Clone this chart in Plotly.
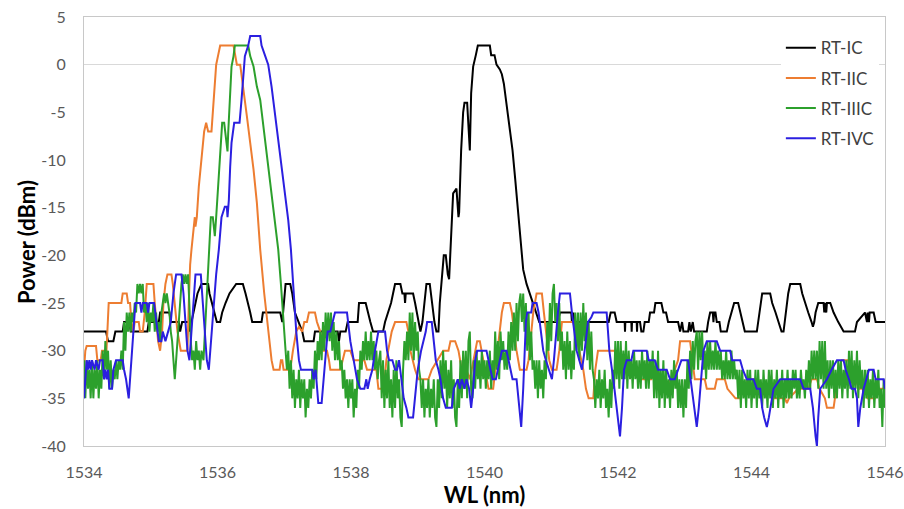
import plotly.graph_objects as go

# ---- data: (wavelength nm, power dBm) vertices ----
rt_ic = [
    [1534.00,-28],[1534.33,-28],[1534.36,-29],[1534.44,-29],[1534.47,-28],[1534.58,-28],[1534.60,-27],[1534.68,-27],
    [1534.70,-28],[1534.95,-28],[1534.97,-27],[1535.12,-27],[1535.14,-26],[1535.28,-26],[1535.30,-27],[1535.42,-27],
    [1535.44,-28],[1535.47,-27],[1535.57,-27],[1535.59,-28],[1535.61,-27],[1535.64,-26],[1535.67,-25],[1535.70,-24],
    [1535.76,-23],[1535.86,-23],[1535.88,-24],[1535.92,-25],[1535.96,-26],[1535.99,-27],[1536.04,-27],[1536.07,-26],
    [1536.12,-25],[1536.18,-24],[1536.28,-23],[1536.38,-23],[1536.42,-24],[1536.46,-25],[1536.49,-26],[1536.52,-27],
    [1536.66,-27],[1536.68,-26],[1536.94,-26],[1536.97,-27],[1537.00,-25],[1537.02,-23],[1537.09,-23],[1537.12,-24],
    [1537.16,-26],[1537.22,-27],[1537.27,-28],[1537.30,-29],[1537.44,-29],[1537.46,-28],[1537.80,-28],[1537.82,-29],
    [1537.84,-28],[1537.92,-28],[1537.95,-27],[1538.10,-27],[1538.12,-25],[1538.22,-25],[1538.25,-26],[1538.29,-27],
    [1538.33,-28],[1538.48,-28],[1538.51,-27],[1538.56,-26],[1538.60,-25],[1538.63,-24],[1538.66,-23],[1538.74,-23],
    [1538.77,-24],[1538.80,-24],[1538.81,-25],[1538.82,-24],[1538.93,-24],[1538.96,-25],[1538.99,-26],[1539.02,-27],
    [1539.04,-28],[1539.07,-27],[1539.10,-25],[1539.13,-23],[1539.18,-23],[1539.21,-25],[1539.25,-27],[1539.28,-28],
    [1539.31,-28],[1539.33,-25],[1539.36,-22],[1539.39,-20],[1539.42,-20],[1539.45,-22],[1539.47,-22.5],[1539.49,-19],
    [1539.51,-16],[1539.53,-13.5],[1539.58,-13],[1539.61,-16],[1539.62,-15.5],[1539.65,-9],[1539.68,-5],[1539.70,-4],
    [1539.74,-4],[1539.78,-9],[1539.80,-3],[1539.83,-0.2],[1539.87,1],[1539.90,2],[1540.08,2],[1540.10,1],
    [1540.15,1],[1540.18,0],[1540.23,-0.5],[1540.26,-1],[1540.29,-2],[1540.31,-3],[1540.34,-4.5],[1540.38,-6.5],
    [1540.42,-9],[1540.46,-12],[1540.49,-14.5],[1540.53,-17.5],[1540.56,-19.5],[1540.58,-21.5],[1540.63,-23],[1540.68,-24],
    [1540.73,-25],[1540.77,-26],[1540.82,-27],[1540.96,-27],[1540.97,-28],[1540.99,-27],[1541.10,-27],[1541.13,-26],
    [1541.30,-26],[1541.31,-27],[1541.33,-26],[1541.35,-27],[1541.86,-27],[1541.89,-26],[1541.95,-26],[1541.98,-27],
    [1542.10,-27],[1542.105,-28],[1542.11,-27],[1542.20,-27],[1542.205,-28],[1542.21,-27],[1542.28,-27],[1542.285,-28],
    [1542.29,-27],[1542.33,-27],[1542.35,-28],[1542.38,-28],[1542.40,-27],[1542.46,-27],[1542.48,-26],[1542.54,-26],
    [1542.56,-25],[1542.65,-25],[1542.68,-26],[1542.72,-26],[1542.75,-27],[1542.90,-27],[1542.93,-28],[1542.96,-27],
    [1542.98,-28],[1543.05,-28],[1543.07,-27],[1543.09,-28],[1543.12,-27],[1543.14,-28],[1543.33,-28],[1543.35,-27],
    [1543.38,-26],[1543.42,-26],[1543.43,-27],[1543.44,-26],[1543.46,-26],[1543.48,-27],[1543.52,-27],[1543.54,-28],
    [1543.63,-28],[1543.66,-27],[1543.70,-26],[1543.74,-25],[1543.80,-25],[1543.83,-26],[1543.86,-27],[1543.90,-28],
    [1544.08,-28],[1544.10,-27],[1544.13,-26],[1544.16,-24],[1544.28,-24],[1544.31,-25],[1544.36,-26],[1544.40,-27],
    [1544.45,-28],[1544.48,-28],[1544.51,-26],[1544.55,-24],[1544.58,-23],[1544.73,-23],[1544.76,-24],[1544.80,-25],
    [1544.85,-26],[1544.90,-27],[1544.92,-27.5],[1544.94,-27],[1544.96,-26],[1545.00,-25],[1545.08,-25],[1545.09,-26],
    [1545.10,-25],[1545.12,-26],[1545.13,-25],[1545.18,-25],[1545.23,-26],[1545.30,-27],[1545.38,-28],[1545.55,-28],
    [1545.58,-27],[1545.70,-26],[1545.73,-27],[1545.74,-26],[1545.76,-27],[1545.77,-26],[1545.83,-26],[1545.86,-27],
    [1546.00,-27],
]

rt_iic = [
    [1534.00,-32],[1534.02,-30],[1534.04,-29.5],[1534.18,-29.5],[1534.20,-31],[1534.25,-31],[1534.27,-30],[1534.31,-30],
    [1534.33,-31],[1534.35,-28],[1534.37,-25],[1534.56,-25],[1534.58,-24],[1534.64,-24],[1534.66,-25],[1534.69,-25],
    [1534.71,-27],[1534.74,-28],[1534.76,-27],[1534.82,-27],[1534.84,-28],[1534.88,-28],[1534.91,-26],[1534.94,-23],
    [1535.04,-23],[1535.06,-25],[1535.08,-27],[1535.11,-29],[1535.14,-30],[1535.17,-28],[1535.19,-25],[1535.22,-23],
    [1535.25,-22],[1535.31,-22],[1535.33,-23],[1535.36,-25],[1535.40,-28],[1535.45,-30],[1535.55,-30],[1535.57,-25],
    [1535.59,-21],[1535.61,-19.4],[1535.64,-17],[1535.66,-16],[1535.67,-17],[1535.69,-16],[1535.72,-12.8],[1535.77,-8.9],
    [1535.80,-7],[1535.83,-6.1],[1535.86,-7],[1535.91,-7],[1535.94,-3.7],[1535.98,0],[1536.01,1],[1536.04,2],
    [1536.24,2],[1536.26,1],[1536.29,0],[1536.34,0],[1536.36,-1],[1536.39,-2.6],[1536.44,-5.4],[1536.49,-8.2],
    [1536.54,-11],[1536.59,-14.5],[1536.64,-19.4],[1536.70,-24],[1536.76,-28],[1536.81,-31],[1536.84,-32],[1536.93,-32],
    [1536.95,-31],[1536.97,-31],[1536.99,-32],[1537.09,-32],[1537.13,-30],[1537.18,-28],[1537.22,-27.5],[1537.27,-28],
    [1537.30,-27],[1537.34,-27],[1537.37,-26],[1537.46,-26],[1537.49,-27],[1537.54,-28],[1537.59,-30],[1537.64,-30],
    [1537.67,-31],[1537.69,-32],[1537.84,-32],[1537.87,-31],[1537.91,-30],[1537.99,-30],[1538.04,-31],[1538.20,-31],
    [1538.24,-32],[1538.38,-32],[1538.41,-34],[1538.49,-34],[1538.53,-31],[1538.61,-28],[1538.66,-27],[1538.83,-27],
    [1538.86,-28],[1538.89,-30],[1538.96,-32],[1539.01,-33],[1539.16,-33],[1539.21,-32],[1539.30,-31],[1539.38,-30],
    [1539.46,-30],[1539.49,-29],[1539.56,-29],[1539.61,-30],[1539.66,-32],[1539.73,-32],[1539.78,-33],[1539.83,-31],
    [1539.86,-30],[1539.89,-29],[1539.93,-29],[1539.98,-31],[1540.03,-33],[1540.06,-34],[1540.13,-34],[1540.16,-32],
    [1540.19,-30],[1540.22,-28],[1540.26,-26],[1540.29,-25],[1540.38,-25],[1540.41,-26],[1540.44,-28],[1540.48,-30],
    [1540.53,-32],[1540.63,-32],[1540.66,-31],[1540.70,-28],[1540.73,-26],[1540.78,-24],[1540.86,-24],[1540.89,-26],
    [1540.92,-28],[1540.97,-31],[1541.01,-32],[1541.08,-32],[1541.12,-30],[1541.16,-27],[1541.33,-27],[1541.36,-28],
    [1541.43,-30],[1541.48,-32],[1541.52,-34],[1541.56,-35],[1541.63,-35],[1541.66,-32],[1541.70,-30],[1541.95,-30],
    [1541.98,-31],[1542.10,-31],[1542.13,-32],[1542.30,-32],[1542.33,-33],[1542.50,-33],[1542.53,-32],[1542.60,-32],
    [1542.63,-33],[1542.70,-34],[1542.74,-34.5],[1542.78,-33],[1542.85,-32],[1542.90,-31],[1542.93,-29],[1543.08,-29],
    [1543.11,-31],[1543.15,-33],[1543.30,-33],[1543.33,-34],[1543.45,-34],[1543.48,-33],[1543.60,-33],[1543.64,-34],
    [1543.76,-35],[1543.83,-35],[1543.87,-34],[1543.95,-33],[1544.10,-33],[1544.14,-34],[1544.30,-34],[1544.34,-35],
    [1544.50,-35],[1544.53,-35.5],[1544.56,-35],[1544.70,-34],[1544.85,-34],[1544.90,-33],[1544.98,-33],[1545.02,-34],
    [1545.10,-35],[1545.13,-36],[1545.23,-36],[1545.27,-34],[1545.31,-32],[1545.35,-31],[1545.45,-31],[1545.48,-32],
    [1545.55,-33],[1545.62,-34],[1545.70,-34],[1545.74,-35],[1545.85,-35],[1545.88,-34],[1546.00,-34],
]

rt_iiic = [
    [1534.00,-31],[1534.02,-35],[1534.04,-31],[1534.06,-34],[1534.08,-32],[1534.10,-35],[1534.12,-31],[1534.14,-35],
    [1534.16,-32],[1534.18,-34],[1534.20,-31],[1534.22,-35],[1534.24,-32],[1534.26,-34],[1534.28,-30],[1534.30,-33],
    [1534.32,-29],[1534.34,-32],[1534.36,-30],[1534.38,-34],[1534.40,-31],[1534.42,-34],[1534.44,-32],[1534.46,-33],
    [1534.48,-31],[1534.50,-33],[1534.52,-31],[1534.54,-32],[1534.56,-30],[1534.58,-32],[1534.60,-27],[1534.62,-30],
    [1534.64,-26],[1534.66,-28],[1534.68,-26],[1534.70,-28],[1534.72,-26],[1534.74,-27],[1534.76,-25],[1534.78,-26],
    [1534.80,-23],[1534.82,-24],[1534.84,-23],[1534.86,-24],[1534.88,-23],[1534.90,-26],[1534.92,-25],[1534.94,-27],
    [1534.96,-25],[1534.98,-28],[1535.00,-26],[1535.02,-27],[1535.04,-25],[1535.06,-28],[1535.08,-26],[1535.10,-28],
    [1535.12,-27],[1535.14,-29],[1535.16,-26],[1535.18,-25],[1535.20,-24],[1535.22,-25],[1535.24,-24],[1535.26,-25],
    [1535.28,-26],[1535.30,-28],[1535.32,-29],[1535.34,-31],[1535.36,-33],[1535.38,-31],[1535.40,-29],[1535.42,-26],
    [1535.44,-24],[1535.46,-23],[1535.48,-22],[1535.50,-23],[1535.52,-22],[1535.54,-23],[1535.56,-22],[1535.58,-26],
    [1535.60,-29],[1535.62,-31],[1535.64,-30],[1535.66,-32],[1535.68,-29],[1535.70,-31],[1535.72,-30],[1535.74,-32],
    [1535.76,-30],[1535.79,-31],[1535.82,-27],[1535.85,-22],[1535.87,-19.4],[1535.90,-16],[1535.93,-16],[1535.96,-18],
    [1535.98,-16],[1536.01,-12.4],[1536.05,-8.9],[1536.07,-6.1],[1536.10,-6.1],[1536.12,-7.2],[1536.15,-9.1],[1536.16,-7.2],
    [1536.19,-3.7],[1536.21,-0.2],[1536.24,0.9],[1536.26,2],[1536.46,2],[1536.49,0.9],[1536.54,-0.2],[1536.56,-1],
    [1536.59,-2.3],[1536.64,-3.7],[1536.69,-6.5],[1536.74,-9.3],[1536.79,-12.1],[1536.84,-14.9],[1536.89,-17.7],[1536.91,-19.4],
    [1536.95,-23],[1537.00,-28],[1537.04,-32],[1537.06,-30],[1537.08,-34],[1537.10,-31],[1537.12,-35],[1537.14,-32],
    [1537.16,-36],[1537.18,-33],[1537.20,-35],[1537.22,-32],[1537.24,-36],[1537.26,-33],[1537.28,-35],[1537.30,-33],
    [1537.32,-37],[1537.34,-34],[1537.36,-36],[1537.38,-33],[1537.40,-35],[1537.42,-32],[1537.44,-34],[1537.46,-30],
    [1537.48,-33],[1537.50,-29],[1537.52,-31],[1537.54,-28],[1537.56,-31],[1537.58,-27],[1537.60,-30],[1537.62,-26],
    [1537.64,-29],[1537.66,-26],[1537.68,-29],[1537.70,-26],[1537.72,-30],[1537.74,-27],[1537.76,-31],[1537.78,-28],
    [1537.80,-31],[1537.82,-29],[1537.84,-32],[1537.86,-31],[1537.88,-34],[1537.90,-32],[1537.92,-35],[1537.94,-33],
    [1537.96,-36],[1537.98,-33],[1538.00,-35],[1538.02,-33],[1538.04,-37],[1538.06,-34],[1538.08,-36],[1538.10,-32],
    [1538.12,-34],[1538.14,-30],[1538.16,-32],[1538.18,-29],[1538.20,-31],[1538.22,-28],[1538.24,-31],[1538.26,-29],
    [1538.28,-31],[1538.30,-28],[1538.32,-31],[1538.34,-29],[1538.36,-32],[1538.38,-30],[1538.40,-33],[1538.42,-31],
    [1538.44,-30],[1538.46,-35],[1538.48,-31],[1538.50,-36],[1538.52,-32],[1538.54,-35],[1538.56,-31],[1538.58,-36],
    [1538.60,-33],[1538.62,-37],[1538.64,-32],[1538.66,-36],[1538.68,-31],[1538.70,-35],[1538.72,-33],[1538.74,-37],
    [1538.76,-38],[1538.78,-32],[1538.80,-29],[1538.82,-31],[1538.84,-28],[1538.86,-31],[1538.88,-26],[1538.90,-30],
    [1538.92,-26],[1538.94,-31],[1538.96,-27],[1538.98,-30],[1539.00,-28],[1539.02,-32],[1539.04,-33],[1539.06,-36],
    [1539.08,-33],[1539.10,-37],[1539.12,-34],[1539.14,-36],[1539.16,-33],[1539.18,-37],[1539.20,-34],[1539.22,-36],
    [1539.24,-33],[1539.26,-37],[1539.28,-38],[1539.30,-33],[1539.32,-36],[1539.34,-31],[1539.36,-35],[1539.38,-30],
    [1539.40,-34],[1539.42,-31],[1539.44,-36],[1539.46,-32],[1539.48,-35],[1539.50,-31],[1539.52,-36],[1539.54,-33],
    [1539.56,-37],[1539.58,-38],[1539.60,-33],[1539.62,-36],[1539.64,-31],[1539.66,-35],[1539.68,-30],[1539.70,-34],
    [1539.72,-30],[1539.74,-35],[1539.76,-29],[1539.78,-28],[1539.80,-34],[1539.82,-35],[1539.84,-31],[1539.86,-34],
    [1539.88,-30],[1539.90,-33],[1539.92,-31],[1539.94,-34],[1539.96,-30],[1539.98,-33],[1540.00,-31],[1540.02,-34],
    [1540.04,-31],[1540.06,-33],[1540.08,-30],[1540.10,-34],[1540.12,-31],[1540.14,-33],[1540.16,-28],[1540.18,-32],
    [1540.20,-29],[1540.22,-33],[1540.24,-28],[1540.26,-31],[1540.28,-29],[1540.30,-32],[1540.32,-30],[1540.34,-32],
    [1540.36,-28],[1540.38,-31],[1540.40,-27],[1540.42,-30],[1540.44,-26],[1540.46,-30],[1540.48,-25],[1540.50,-29],
    [1540.52,-25],[1540.54,-24],[1540.56,-27],[1540.58,-24],[1540.60,-28],[1540.62,-25],[1540.64,-30],[1540.66,-26],
    [1540.68,-31],[1540.70,-28],[1540.72,-32],[1540.74,-31],[1540.76,-34],[1540.78,-31],[1540.80,-35],[1540.82,-31],
    [1540.84,-34],[1540.86,-32],[1540.88,-35],[1540.90,-31],[1540.92,-33],[1540.94,-27],[1540.96,-30],[1540.98,-25],
    [1541.00,-29],[1541.02,-24],[1541.04,-23],[1541.06,-27],[1541.08,-25],[1541.10,-29],[1541.12,-25],[1541.14,-30],
    [1541.16,-28],[1541.18,-32],[1541.20,-29],[1541.22,-33],[1541.24,-28],[1541.26,-32],[1541.28,-29],[1541.30,-33],
    [1541.32,-30],[1541.34,-32],[1541.36,-26],[1541.38,-30],[1541.40,-26],[1541.42,-31],[1541.44,-26],[1541.46,-30],
    [1541.48,-25],[1541.50,-29],[1541.52,-26],[1541.54,-31],[1541.56,-27],[1541.58,-32],[1541.60,-28],[1541.62,-32],
    [1541.64,-33],[1541.66,-36],[1541.68,-33],[1541.70,-35],[1541.72,-32],[1541.74,-36],[1541.76,-33],[1541.78,-35],
    [1541.80,-32],[1541.82,-36],[1541.84,-34],[1541.86,-37],[1541.88,-33],[1541.90,-36],[1541.92,-32],[1541.94,-34],
    [1541.96,-29],[1541.98,-33],[1542.00,-29],[1542.02,-34],[1542.04,-29],[1542.06,-33],[1542.08,-30],[1542.10,-33],
    [1542.12,-29],[1542.14,-34],[1542.16,-30],[1542.18,-33],[1542.20,-31],[1542.22,-34],[1542.24,-30],[1542.26,-33],
    [1542.28,-31],[1542.30,-34],[1542.32,-31],[1542.34,-34],[1542.36,-30],[1542.38,-33],[1542.40,-31],[1542.42,-34],
    [1542.44,-30],[1542.46,-34],[1542.48,-31],[1542.50,-33],[1542.52,-30],[1542.54,-35],[1542.56,-31],[1542.58,-35],
    [1542.60,-30],[1542.62,-36],[1542.64,-32],[1542.66,-35],[1542.68,-31],[1542.70,-36],[1542.72,-32],[1542.74,-35],
    [1542.76,-33],[1542.78,-36],[1542.80,-32],[1542.82,-35],[1542.84,-31],[1542.86,-34],[1542.88,-32],[1542.90,-36],
    [1542.92,-33],[1542.94,-36],[1542.96,-33],[1542.98,-37],[1543.00,-33],[1543.02,-36],[1543.04,-31],[1543.06,-34],
    [1543.08,-30],[1543.10,-33],[1543.12,-29],[1543.14,-32],[1543.16,-29],[1543.18,-28],[1543.20,-32],[1543.22,-28],
    [1543.24,-31],[1543.26,-28],[1543.28,-32],[1543.30,-30],[1543.32,-33],[1543.34,-29],[1543.36,-32],[1543.38,-29],
    [1543.40,-32],[1543.42,-30],[1543.44,-32],[1543.46,-29],[1543.48,-32],[1543.50,-30],[1543.52,-32],[1543.54,-30],
    [1543.56,-33],[1543.58,-31],[1543.60,-33],[1543.62,-30],[1543.64,-33],[1543.66,-31],[1543.68,-33],[1543.70,-30],
    [1543.72,-33],[1543.74,-31],[1543.76,-33],[1543.78,-32],[1543.80,-35],[1543.82,-32],[1543.84,-36],[1543.86,-32],
    [1543.88,-35],[1543.90,-33],[1543.92,-36],[1543.94,-32],[1543.96,-35],[1543.98,-32],[1544.00,-36],[1544.02,-33],
    [1544.04,-35],[1544.06,-32],[1544.08,-36],[1544.10,-32],[1544.12,-35],[1544.14,-33],[1544.16,-36],[1544.18,-32],
    [1544.20,-35],[1544.22,-33],[1544.24,-36],[1544.26,-32],[1544.28,-35],[1544.30,-32],[1544.32,-36],[1544.34,-33],
    [1544.36,-35],[1544.38,-32],[1544.40,-36],[1544.42,-33],[1544.44,-35],[1544.46,-32],[1544.48,-36],[1544.50,-33],
    [1544.52,-35],[1544.54,-32],[1544.56,-35],[1544.58,-33],[1544.60,-35],[1544.62,-32],[1544.64,-34],[1544.66,-32],
    [1544.68,-35],[1544.70,-33],[1544.72,-35],[1544.74,-32],[1544.76,-34],[1544.78,-33],[1544.80,-35],[1544.82,-32],
    [1544.84,-34],[1544.86,-31],[1544.88,-34],[1544.90,-30],[1544.92,-33],[1544.94,-30],[1544.96,-33],[1544.98,-30],
    [1545.00,-34],[1545.02,-29],[1545.04,-33],[1545.06,-29],[1545.08,-34],[1545.10,-29],[1545.12,-34],[1545.14,-31],
    [1545.16,-35],[1545.18,-31],[1545.20,-34],[1545.22,-31],[1545.24,-35],[1545.26,-32],[1545.28,-35],[1545.30,-31],
    [1545.32,-34],[1545.34,-31],[1545.36,-35],[1545.38,-32],[1545.40,-34],[1545.42,-31],[1545.44,-35],[1545.46,-30],
    [1545.48,-34],[1545.50,-30],[1545.52,-35],[1545.54,-31],[1545.56,-34],[1545.58,-30],[1545.60,-35],[1545.62,-31],
    [1545.64,-34],[1545.66,-32],[1545.68,-36],[1545.70,-32],[1545.72,-35],[1545.74,-32],[1545.76,-36],[1545.78,-33],
    [1545.80,-35],[1545.82,-32],[1545.84,-36],[1545.86,-33],[1545.88,-35],[1545.90,-32],[1545.92,-36],[1545.94,-34],
    [1545.96,-38],[1545.98,-33],[1546.00,-36],
]

rt_ivc = [
    [1534.00,-35],[1534.02,-33],[1534.04,-31],[1534.06,-32],[1534.08,-31],[1534.10,-32],[1534.12,-31],[1534.16,-32],
    [1534.18,-31],[1534.22,-32],[1534.24,-31],[1534.28,-31],[1534.30,-33],[1534.32,-32],[1534.34,-33],[1534.36,-32],
    [1534.38,-34],[1534.42,-34],[1534.44,-32],[1534.48,-31],[1534.58,-31],[1534.60,-32],[1534.63,-33],[1534.67,-35],
    [1534.70,-32],[1534.72,-29],[1534.74,-27],[1534.77,-25],[1534.84,-25],[1534.86,-26],[1534.88,-25],[1534.94,-25],
    [1534.96,-26],[1534.98,-25],[1535.05,-25],[1535.08,-27],[1535.12,-29],[1535.16,-29],[1535.18,-28],[1535.22,-29],
    [1535.26,-28],[1535.30,-27],[1535.34,-24],[1535.38,-22],[1535.46,-22],[1535.49,-24],[1535.52,-27],[1535.55,-30],
    [1535.58,-31],[1535.61,-28],[1535.64,-24],[1535.67,-22],[1535.75,-22],[1535.78,-25],[1535.81,-28],[1535.84,-31],
    [1535.87,-32],[1535.90,-29],[1535.94,-26],[1535.98,-22],[1536.02,-19.4],[1536.06,-16],[1536.11,-14.9],[1536.14,-14.9],
    [1536.15,-16],[1536.17,-14.2],[1536.19,-10.7],[1536.21,-8.2],[1536.25,-6.1],[1536.33,-6.1],[1536.36,-3.7],[1536.39,-1.2],
    [1536.41,0.9],[1536.46,2],[1536.49,3],[1536.64,3],[1536.66,2],[1536.71,1],[1536.76,0],[1536.81,-2.3],
    [1536.86,-5.1],[1536.91,-7.9],[1536.96,-10.7],[1537.01,-13.5],[1537.06,-16.3],[1537.10,-19.4],[1537.14,-24],[1537.18,-28],
    [1537.22,-31],[1537.25,-32],[1537.42,-32],[1537.44,-33],[1537.47,-32],[1537.49,-34],[1537.51,-35.5],[1537.56,-35.5],
    [1537.59,-33],[1537.62,-30],[1537.65,-28],[1537.69,-28],[1537.72,-27],[1537.76,-26],[1537.94,-26],[1537.97,-28],
    [1537.99,-29],[1538.04,-31],[1538.09,-33],[1538.14,-34],[1538.20,-34],[1538.23,-33],[1538.25,-34],[1538.28,-33],
    [1538.32,-32],[1538.36,-30],[1538.39,-29],[1538.41,-28],[1538.51,-28],[1538.54,-30],[1538.57,-31],[1538.62,-31],
    [1538.66,-32],[1538.69,-32],[1538.72,-31],[1538.75,-33],[1538.79,-35],[1538.83,-36],[1538.86,-37],[1538.93,-37],
    [1538.96,-35],[1539.00,-32],[1539.05,-30],[1539.09,-29],[1539.12,-28],[1539.14,-27],[1539.21,-27],[1539.24,-29],
    [1539.27,-31],[1539.31,-32],[1539.34,-33],[1539.38,-35],[1539.42,-36],[1539.51,-36],[1539.54,-34],[1539.57,-33.5],
    [1539.60,-33],[1539.63,-34],[1539.66,-33],[1539.70,-34],[1539.73,-33],[1539.77,-34],[1539.80,-36],[1539.83,-34],
    [1539.86,-31],[1539.89,-30],[1540.03,-30],[1540.06,-31],[1540.09,-32],[1540.12,-33],[1540.17,-33],[1540.20,-32],
    [1540.23,-31],[1540.26,-30],[1540.33,-30],[1540.36,-31],[1540.39,-32],[1540.42,-33],[1540.48,-33],[1540.51,-35],
    [1540.55,-38],[1540.58,-34],[1540.60,-30],[1540.62,-27],[1540.64,-26],[1540.70,-26],[1540.72,-25],[1540.78,-25],
    [1540.81,-26],[1540.84,-28],[1540.88,-30],[1540.92,-31],[1540.96,-32],[1541.01,-33],[1541.04,-31],[1541.07,-28],
    [1541.10,-26],[1541.13,-24],[1541.28,-24],[1541.31,-26],[1541.34,-28],[1541.38,-30],[1541.42,-31],[1541.46,-32],
    [1541.50,-30],[1541.55,-27],[1541.60,-26.5],[1541.63,-26],[1541.83,-26],[1541.87,-30],[1541.93,-33],[1541.98,-36],
    [1542.03,-39],[1542.06,-36],[1542.09,-32],[1542.13,-31],[1542.20,-31],[1542.23,-30],[1542.28,-30],[1542.43,-30],
    [1542.46,-31],[1542.55,-31],[1542.60,-32],[1542.73,-32],[1542.78,-33],[1542.85,-33],[1542.90,-32],[1542.95,-31],
    [1543.05,-31],[1543.09,-33],[1543.13,-35],[1543.15,-36],[1543.18,-38],[1543.21,-36],[1543.25,-33],[1543.28,-30],
    [1543.33,-29],[1543.48,-29],[1543.53,-30],[1543.68,-30],[1543.71,-31],[1543.83,-31],[1543.87,-32],[1543.93,-33],
    [1544.03,-33],[1544.08,-34],[1544.13,-34],[1544.16,-36],[1544.19,-37],[1544.23,-38],[1544.26,-37],[1544.30,-35],
    [1544.33,-34],[1544.38,-33.5],[1544.43,-33],[1544.73,-33],[1544.78,-34],[1544.88,-34],[1544.92,-36],[1544.96,-39],
    [1544.98,-40],[1545.00,-37],[1545.03,-34],[1545.08,-33.5],[1545.13,-33],[1545.20,-32],[1545.24,-31.5],[1545.28,-31],
    [1545.38,-31],[1545.41,-32],[1545.46,-33],[1545.50,-34],[1545.55,-34],[1545.58,-35],[1545.60,-38],[1545.63,-36],
    [1545.68,-34],[1545.72,-33],[1545.76,-32],[1545.83,-32],[1545.86,-33],[1545.98,-33],[1546.00,-34],
]

series_names = ["RT-IC", "RT-IIC", "RT-IIIC", "RT-IVC"]
series_data = [rt_ic, rt_iic, rt_iiic, rt_ivc]
series_colors = ["#000000", "#ED7D31", "#2CA02C", "#2B1FE0"]

x_ticks = [1534, 1536, 1538, 1540, 1542, 1544, 1546]
y_ticks = [5, 0, -5, -10, -15, -20, -25, -30, -35, -40]

FONT = "Lato"

fig = go.Figure()
for i, (name, pts, col) in enumerate(zip(series_names, series_data, series_colors)):
    fig.add_trace(go.Scatter(
        x=[p[0] for p in pts], y=[p[1] for p in pts],
        mode="lines", name=name, legendgroup=f"g{i}",
        line=dict(color=col, width=2),
    ))

fig.update_layout(
    width=904, height=509,
    margin=dict(l=84, r=19, t=17, b=63),
    paper_bgcolor="white", plot_bgcolor="white",
    font=dict(family=FONT, size=16, color="#595959"),
    showlegend=True,
    legend=dict(
        x=0.870, xanchor="left", y=0.969, yanchor="top",
        bgcolor="white", borderwidth=0,
        font=dict(family=FONT, size=17, color="#404040"),
        tracegroupgap=5, itemwidth=30,
    ),
    xaxis=dict(
        range=[1534, 1546], tickvals=x_ticks, ticktext=[str(v) for v in x_ticks],
        showgrid=False, zeroline=False,
        showline=True, mirror=True, linecolor="#C8C8C8", linewidth=1,
        ticks="", ticklabelstandoff=12, automargin=False,
        title=dict(text="<b>WL (nm)</b>", font=dict(family=FONT, size=22, color="#000000"), standoff=6),
    ),
    yaxis=dict(
        range=[-40, 5], tickvals=y_ticks, ticktext=[str(v) for v in y_ticks],
        showgrid=False, zeroline=True, zerolinecolor="#D9D9D9", zerolinewidth=1,
        showline=True, mirror=True, linecolor="#C8C8C8", linewidth=1,
        ticks="", ticklabelstandoff=14, automargin=False,
    ),
    annotations=[dict(
        text="<b>Power (dBm)</b>", textangle=-90,
        xref="paper", yref="paper", x=-0.0724, y=0.4755,
        xanchor="center", yanchor="middle", showarrow=False,
        font=dict(family=FONT, size=22, color="#000000"),
    )],
)

fig.write_html(
    "out.html",
    config={"displayModeBar": False},
    post_script="document.body.style.margin='0';document.body.style.padding='0';document.body.style.overflow='hidden';",
)
